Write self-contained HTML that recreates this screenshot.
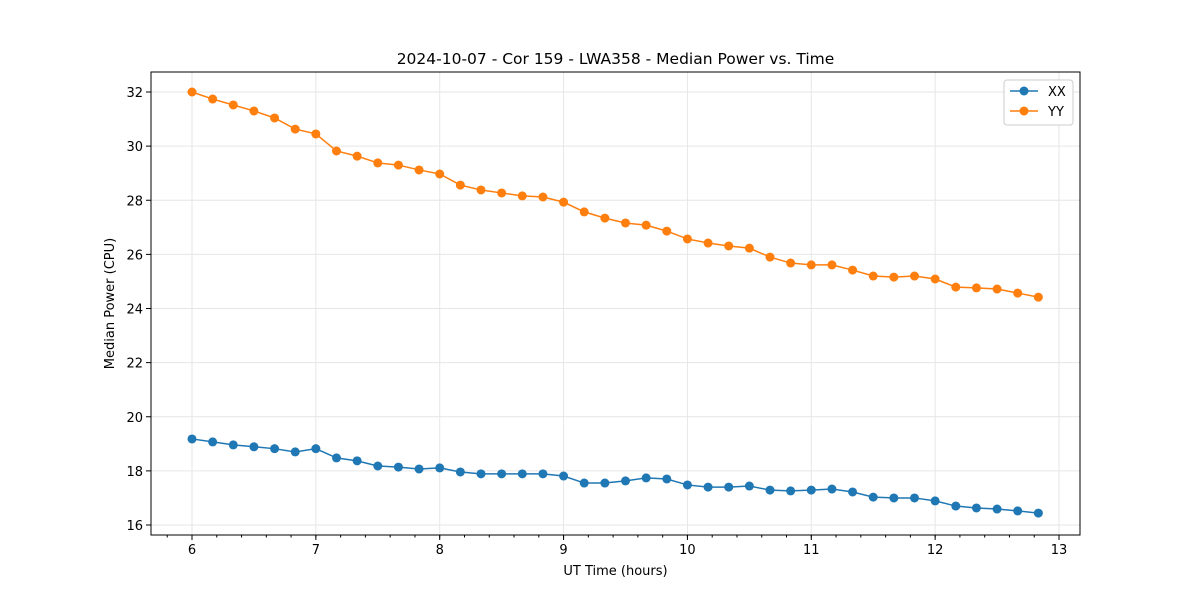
<!DOCTYPE html>
<html><head><meta charset="utf-8"><style>
body{margin:0;background:#fff;font-family:"Liberation Sans","DejaVu Sans",sans-serif;}
svg text{font-family:"DejaVu Sans","Liberation Sans",sans-serif;}
</style></head><body>
<svg id="chart" width="1200" height="600" xmlns="http://www.w3.org/2000/svg"></svg>
<script>
const xStartHours = 6;
const stepHours = 1/6;
const xxValues = [19.18,19.07,18.96,18.89,18.82,18.70,18.82,18.48,18.37,18.18,18.14,18.07,18.11,17.96,17.89,17.89,17.89,17.89,17.81,17.55,17.55,17.63,17.74,17.70,17.48,17.40,17.40,17.44,17.29,17.26,17.29,17.33,17.22,17.03,17.00,17.00,16.89,16.70,16.63,16.59,16.52,16.44];
const yyValues = [32.0,31.74,31.52,31.30,31.04,30.63,30.45,29.82,29.63,29.38,29.30,29.12,28.97,28.56,28.38,28.27,28.16,28.12,27.93,27.57,27.34,27.16,27.08,26.86,26.57,26.42,26.31,26.23,25.90,25.68,25.61,25.61,25.42,25.20,25.16,25.20,25.09,24.79,24.76,24.72,24.57,24.42];
const xTicks = [6,7,8,9,10,11,12,13];
const yTicks = [16,18,20,22,24,26,28,30,32];
const seriesNames = ["XX","YY"];
const seriesColors = ["#1f77b4","#ff7f0e"];

const L=151,R=1080,T=72,B=535;
const xs=h=>192+(h-6)*(1059-192)/7;
const ys=v=>525-(v-16)*(525-92)/16;
const NS="http://www.w3.org/2000/svg";
const svg=document.getElementById('chart');
function mk(tag,attrs,parent){const e=document.createElementNS(NS,tag);for(const k in attrs)e.setAttribute(k,attrs[k]);(parent||svg).appendChild(e);return e;}

const grid=mk('g',{});


xTicks.forEach(t=>{
  mk('line',{x1:xs(t),x2:xs(t),y1:T,y2:B,stroke:'#e6e6e6','stroke-width':1},grid);
  mk('line',{x1:xs(t),x2:xs(t),y1:B,y2:B+5,stroke:'#000'});
  const tx=mk('text',{x:xs(t),y:B+19,'text-anchor':'middle','font-size':13});
  tx.textContent=t;
  
  
});
for(let m=5.8;m<=13.2;m+=0.2){const mx=xs(m);if(mx>L&&mx<R)mk('line',{x1:mx,x2:mx,y1:B,y2:B+2.5,stroke:'#000'});}
yTicks.forEach(t=>{
  mk('line',{x1:L,x2:R,y1:ys(t),y2:ys(t),stroke:'#e6e6e6','stroke-width':1},grid);
  mk('line',{x1:L-5,x2:L,y1:ys(t),y2:ys(t),stroke:'#000'});
  const tx=mk('text',{x:L-8,y:ys(t)+5,'text-anchor':'end','font-size':13});
  tx.textContent=t;
  
  
});

[xxValues,yyValues].forEach((vals,si)=>{
  const g=mk('g',{});
  
  
  const pts=vals.map((v,i)=>xs(xStartHours+i*stepHours)+','+ys(v)).join(' ');
  mk('polyline',{points:pts,fill:'none',stroke:seriesColors[si],'stroke-width':1.5},g);
  vals.forEach((v,i)=>{
    const c=mk('circle',{cx:xs(xStartHours+i*stepHours),cy:ys(v),r:4.5,fill:seriesColors[si]},g);
    
    
  });
});

const frame=mk('rect',{x:L,y:T,width:R-L,height:B-T,fill:'none',stroke:'#000','stroke-width':1});



const title=mk('text',{x:(L+R)/2,y:64,'text-anchor':'middle','font-size':15.5});
title.textContent='2024-10-07 - Cor 159 - LWA358 - Median Power vs. Time';


const xl=mk('text',{x:(L+R)/2,y:575,'text-anchor':'middle','font-size':13});
xl.textContent='UT Time (hours)';


const yl=mk('text',{x:114,y:(T+B)/2,'text-anchor':'middle','font-size':13,transform:'rotate(-90 114 '+(T+B)/2+')'});
yl.textContent='Median Power (CPU)';



const lg=mk('g',{});


mk('rect',{x:1004,y:80,width:69,height:45,rx:3,fill:'#fff',stroke:'#ccc'},lg);
seriesNames.forEach((n,i)=>{
  const y=91+i*20;
  const e=mk('g',{},lg);
  
  
  mk('line',{x1:1010,x2:1038,y1:y,y2:y,stroke:seriesColors[i],'stroke-width':1.5},e);
  mk('circle',{cx:1024,cy:y,r:4.5,fill:seriesColors[i]},e);
  const t=mk('text',{x:1048,y:y+5,'font-size':13},e);
  t.textContent=n;
});
</script>
</body></html>
